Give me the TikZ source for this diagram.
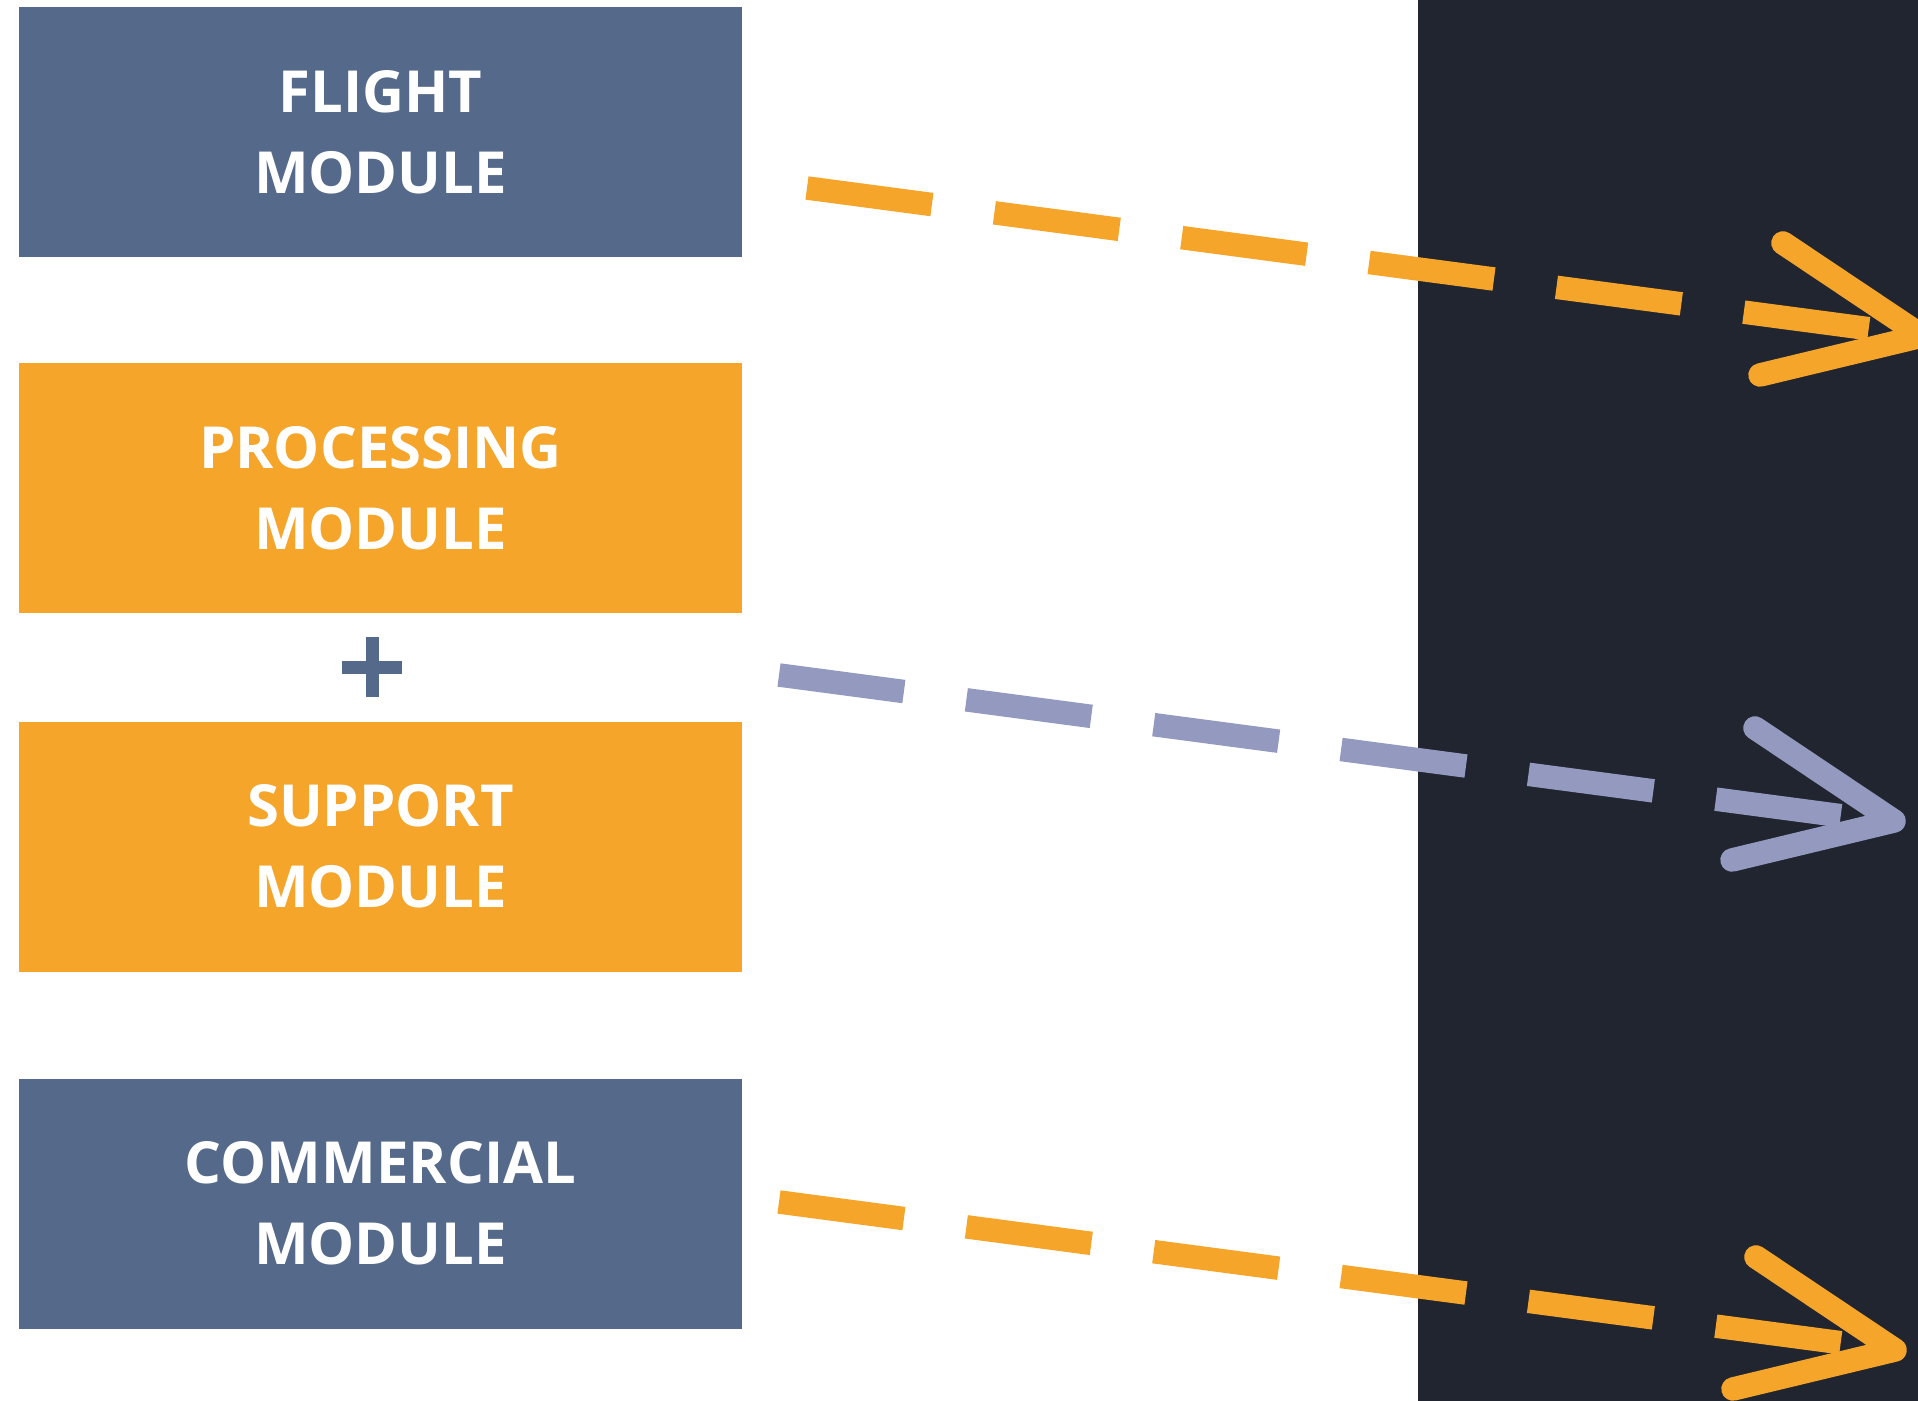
\documentclass[tikz,border=0pt]{standalone}
\usepackage{fontspec}
\setmainfont{Open Sans}
\definecolor{modblue}{HTML}{55698A}
\definecolor{modorange}{HTML}{F5A52A}
\definecolor{modlilac}{HTML}{9399BF}
\definecolor{panel}{HTML}{21252F}
\tikzset{
  module/.style={fill=#1, minimum width=361.5pt, minimum height=125pt, inner sep=0pt,
    text=white, align=center, font=\fontsize{29}{40.4}\selectfont\bfseries},
  flow/.style={draw=#1, line width=11.75pt, dash pattern=on 63pt off 31.5pt},
  chevron/.style={draw=#1, line width=11.75pt, line cap=round, line join=round},
}
\begin{document}
\begin{tikzpicture}[x=0.5pt,y=-0.5pt]
  \useasboundingbox (0,0) rectangle (1918,1401);
  \clip (0,0) rectangle (1918,1401);
  \fill[white] (0,0) rectangle (1918,1401);
  \fill[panel] (1418,0) rectangle (1918,1401);

  \node[module=modblue] (flight) at (380.5,132) {FLIGHT\\MODULE};
  \node[module=modorange] (processing) at (380.5,488) {PROCESSING\\MODULE};
  \node[module=modorange] (support) at (380.5,846.5) {SUPPORT\\MODULE};
  \node[module=modblue] (commercial) at (380.5,1203.5) {COMMERCIAL\\MODULE};

  \coordinate (plus) at (372,667);
  \draw[modblue, line width=6.5pt] ([xshift=-14.85pt]plus) -- ([xshift=14.85pt]plus);
  \draw[modblue, line width=6.5pt] ([yshift=14.85pt]plus) -- ([yshift=-14.85pt]plus);

  \coordinate (a0) at (807,188);
  \coordinate (a1) at (1871,329);
  \coordinate (a2) at (1922,336);
  \draw[flow=modorange] (a0) -- (a1);
  \draw[chevron=modorange] ([shift={(-139,-93)}]a2) -- (a2) -- ([shift={(-162,39)}]a2);

  \coordinate (b0) at (779,675);
  \coordinate (b1) at (1843,816);
  \coordinate (b2) at (1894,821);
  \draw[flow=modlilac] (b0) -- (b1);
  \draw[chevron=modlilac] ([shift={(-139,-93)}]b2) -- (b2) -- ([shift={(-162,39)}]b2);

  \coordinate (c0) at (779,1202);
  \coordinate (c1) at (1843,1343);
  \coordinate (c2) at (1895,1350);
  \draw[flow=modorange] (c0) -- (c1);
  \draw[chevron=modorange] ([shift={(-139,-93)}]c2) -- (c2) -- ([shift={(-162,39)}]c2);
\end{tikzpicture}
\end{document}
